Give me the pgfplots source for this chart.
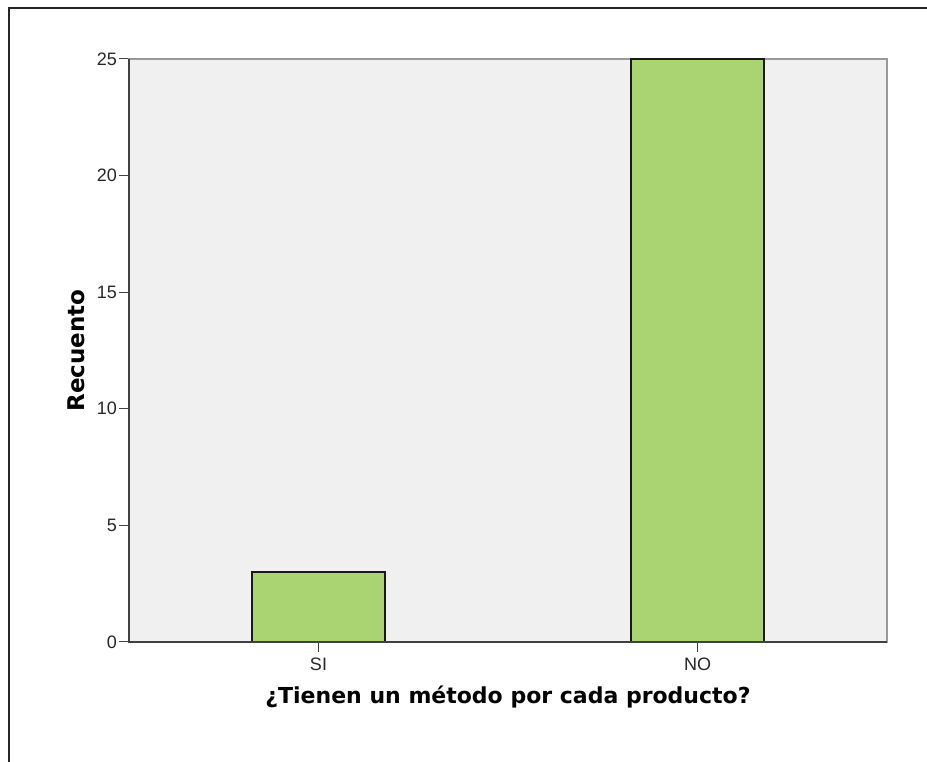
\documentclass[border=0pt]{standalone}
\usepackage{fontspec}
\setmainfont{Liberation Sans}
\newfontfamily\labelfont{DejaVu Sans}
\usepackage{pgfplots}
\pgfplotsset{compat=1.18}

\definecolor{plotbg}{HTML}{F0F0F0}
\definecolor{barfill}{HTML}{AAD372}
\definecolor{axdark}{HTML}{404040}

\begin{document}
\begin{tikzpicture}[x=1pt,y=1pt]
    \useasboundingbox (0,0) rectangle (927,762);
    % outer frame (only left and top visible)
    \draw[line width=1.5pt, black!85] (9,0) -- (9,754) -- (927,754);
    \begin{axis}
    [
        at={(129pt,120pt)},
        anchor=south west,
        scale only axis,
        width=758pt,
        height=583pt,
        xmin=-0.5, xmax=1.5,
        ymin=0, ymax=25,
        xtick=data,
        xticklabels={SI,NO},
        ytick={0,5,10,15,20,25},
        xtick pos=bottom,
        ytick pos=left,
        tick align=outside,
        major tick length=10pt,
        tick style={axdark, line width=1pt},
        axis background/.style={fill=plotbg},
        axis line style={draw=gray!80, line width=1.2pt},
        /pgf/number format/assume math mode=true,
        ticklabel style={font=\fontsize{18}{20}\selectfont, text=black!85},
        yticklabel style={inner sep=2pt},
        xticklabel style={inner sep=6pt},
        ybar,
        bar width=0.35,
        clip=false
    ]
        \addplot[fill=barfill, draw=black!90, line width=1.5pt] coordinates {
            (0, 3)
            (1, 25)
        };
        \draw[axdark, line width=2pt] (rel axis cs:0,1) -- (rel axis cs:0,0) -- (rel axis cs:1,0);
        \node[font=\labelfont\bfseries\fontsize{22}{24}\selectfont] at (rel axis cs:0.5,-0.094) {¿Tienen un método por cada producto?};
        \node[font=\labelfont\bfseries\fontsize{23}{25}\selectfont, rotate=90] at (rel axis cs:-0.07,0.5) {Recuento};
    \end{axis}
\end{tikzpicture}
\end{document}
